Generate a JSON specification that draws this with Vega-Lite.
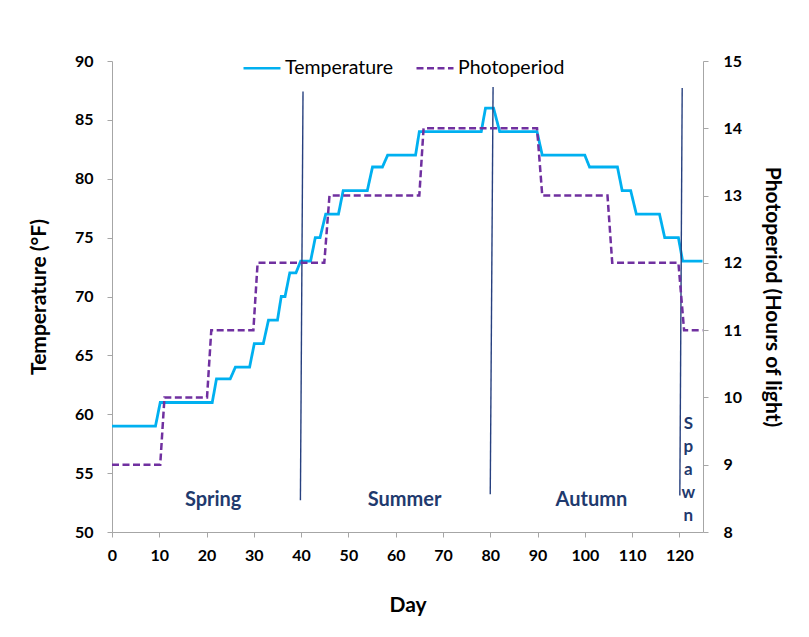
{
  "$schema": "https://vega.github.io/schema/vega-lite/v6.json",
  "width": 591,
  "height": 471,
  "autosize": {"type": "none"},
  "padding": {"left": 112, "top": 61, "right": 106, "bottom": 105},
  "background": "white",
  "config": {
    "view": {"stroke": null},
    "font": "Lato",
    "axis": {
      "grid": false,
      "domainColor": "#a6a6a6",
      "tickColor": "#a6a6a6",
      "tickSize": 5,
      "labelFont": "Lato",
      "labelFontWeight": "bold",
      "labelFontSize": 16,
      "labelColor": "#000000",
      "titleFont": "Lato",
      "titleFontWeight": "bold",
      "titleFontSize": 21,
      "titleColor": "#000000"
    },
    "legend": {
      "orient": "none",
      "legendX": 130,
      "legendY": -13,
      "direction": "horizontal",
      "title": null,
      "labelFont": "Lato",
      "labelFontSize": 19.5,
      "labelColor": "#000000",
      "symbolType": "stroke",
      "symbolSize": 1369,
      "symbolStrokeWidth": 2.5,
      "labelOffset": 3,
      "columnPadding": 17
    }
  },
  "datasets": {
    "lines": [
      {"day": 0, "series": "Temperature", "value": 59},
      {"day": 9.2, "series": "Temperature", "value": 59},
      {"day": 10.2, "series": "Temperature", "value": 61},
      {"day": 21.2, "series": "Temperature", "value": 61},
      {"day": 22.1, "series": "Temperature", "value": 63},
      {"day": 25.0, "series": "Temperature", "value": 63},
      {"day": 26.1, "series": "Temperature", "value": 64},
      {"day": 29.1, "series": "Temperature", "value": 64},
      {"day": 30.1, "series": "Temperature", "value": 66},
      {"day": 32.0, "series": "Temperature", "value": 66},
      {"day": 33.1, "series": "Temperature", "value": 68},
      {"day": 35.0, "series": "Temperature", "value": 68},
      {"day": 35.8, "series": "Temperature", "value": 70},
      {"day": 36.6, "series": "Temperature", "value": 70},
      {"day": 37.6, "series": "Temperature", "value": 72},
      {"day": 38.9, "series": "Temperature", "value": 72},
      {"day": 39.9, "series": "Temperature", "value": 73},
      {"day": 42.0, "series": "Temperature", "value": 73},
      {"day": 43.0, "series": "Temperature", "value": 75},
      {"day": 44.0, "series": "Temperature", "value": 75},
      {"day": 45.2, "series": "Temperature", "value": 77},
      {"day": 47.9, "series": "Temperature", "value": 77},
      {"day": 48.9, "series": "Temperature", "value": 79},
      {"day": 54.0, "series": "Temperature", "value": 79},
      {"day": 55.1, "series": "Temperature", "value": 81},
      {"day": 57.2, "series": "Temperature", "value": 81},
      {"day": 58.3, "series": "Temperature", "value": 82},
      {"day": 64.2, "series": "Temperature", "value": 82},
      {"day": 65.0, "series": "Temperature", "value": 84},
      {"day": 78.1, "series": "Temperature", "value": 84},
      {"day": 79.0, "series": "Temperature", "value": 86},
      {"day": 80.7, "series": "Temperature", "value": 86},
      {"day": 82.0, "series": "Temperature", "value": 84},
      {"day": 89.9, "series": "Temperature", "value": 84},
      {"day": 91.0, "series": "Temperature", "value": 82},
      {"day": 100.0, "series": "Temperature", "value": 82},
      {"day": 101.0, "series": "Temperature", "value": 81},
      {"day": 106.9, "series": "Temperature", "value": 81},
      {"day": 107.9, "series": "Temperature", "value": 79},
      {"day": 109.7, "series": "Temperature", "value": 79},
      {"day": 110.9, "series": "Temperature", "value": 77},
      {"day": 115.8, "series": "Temperature", "value": 77},
      {"day": 116.9, "series": "Temperature", "value": 75},
      {"day": 119.8, "series": "Temperature", "value": 75},
      {"day": 120.7, "series": "Temperature", "value": 73},
      {"day": 124.9, "series": "Temperature", "value": 73},
      {"day": 0, "series": "Photoperiod", "value": 9},
      {"day": 10.2, "series": "Photoperiod", "value": 9},
      {"day": 11.1, "series": "Photoperiod", "value": 10},
      {"day": 20.1, "series": "Photoperiod", "value": 10},
      {"day": 21.0, "series": "Photoperiod", "value": 11},
      {"day": 29.9, "series": "Photoperiod", "value": 11},
      {"day": 30.8, "series": "Photoperiod", "value": 12},
      {"day": 44.9, "series": "Photoperiod", "value": 12},
      {"day": 46.0, "series": "Photoperiod", "value": 13},
      {"day": 65.0, "series": "Photoperiod", "value": 13},
      {"day": 65.9, "series": "Photoperiod", "value": 14},
      {"day": 89.9, "series": "Photoperiod", "value": 14},
      {"day": 91.0, "series": "Photoperiod", "value": 13},
      {"day": 104.8, "series": "Photoperiod", "value": 13},
      {"day": 105.8, "series": "Photoperiod", "value": 12},
      {"day": 119.8, "series": "Photoperiod", "value": 12},
      {"day": 121.0, "series": "Photoperiod", "value": 11},
      {"day": 124.9, "series": "Photoperiod", "value": 11}
    ],
    "dividers": [
      {"dayTop": 40.4, "dayBottom": 39.85, "top": 87.4, "bottom": 52.7},
      {"dayTop": 80.6, "dayBottom": 80.0, "top": 87.8, "bottom": 53.2},
      {"dayTop": 120.6, "dayBottom": 120.1, "top": 87.7, "bottom": 53.1}
    ],
    "seasons": [
      {"label": "Spring", "day": 21.4, "temp": 52.7},
      {"label": "Summer", "day": 61.9, "temp": 52.7},
      {"label": "Autumn", "day": 101.4, "temp": 52.7}
    ],
    "spawn": [
      {"label": "S\np\na\nw\nn", "day": 121.9, "temp": 59.2}
    ]
  },
  "layer": [
    {
      "layer": [
        {
          "data": {"name": "lines"},
          "transform": [{"filter": "datum.series === 'Temperature'"}],
          "mark": {"type": "line", "strokeWidth": 2.8},
          "encoding": {
            "x": {
              "field": "day", "type": "quantitative",
              "scale": {"domain": [0, 125], "nice": false, "zero": false},
              "axis": {"title": "Day", "values": [0, 10, 20, 30, 40, 50, 60, 70, 80, 90, 100, 110, 120], "labelPadding": 10, "titlePadding": 31, "labelFlush": false}
            },
            "y": {
              "field": "value", "type": "quantitative",
              "scale": {"domain": [50, 90], "nice": false, "zero": false},
              "axis": {"title": "Temperature (°F)", "values": [50, 55, 60, 65, 70, 75, 80, 85, 90], "labelPadding": 14, "titlePadding": 25}
            },
            "color": {
              "field": "series", "type": "nominal",
              "scale": {"domain": ["Temperature", "Photoperiod"], "range": ["#00B0F0", "#7030A0"]}
            },
            "strokeDash": {
              "field": "series", "type": "nominal",
              "scale": {"domain": ["Temperature", "Photoperiod"], "range": [[1, 0], [7, 3.5]]}
            }
          }
        },
        {
          "data": {"name": "dividers"},
          "mark": {"type": "rule", "color": "#27407F", "strokeWidth": 1.4},
          "encoding": {
            "x": {"field": "dayTop", "type": "quantitative"},
            "x2": {"field": "dayBottom"},
            "y": {"field": "top", "type": "quantitative"},
            "y2": {"field": "bottom"}
          }
        },
        {
          "data": {"name": "seasons"},
          "mark": {"type": "text", "color": "#1F3A6E", "fontWeight": "bold", "font": "Lato", "fontSize": 20, "baseline": "middle", "align": "center"},
          "encoding": {
            "x": {"field": "day", "type": "quantitative"},
            "y": {"field": "temp", "type": "quantitative"},
            "text": {"field": "label"}
          }
        },
        {
          "data": {"name": "spawn"},
          "mark": {"type": "text", "color": "#1F3A6E", "fontWeight": "bold", "font": "Lato", "fontSize": 17, "lineBreak": "\n", "lineHeight": 23, "baseline": "middle", "align": "center"},
          "encoding": {
            "x": {"field": "day", "type": "quantitative"},
            "y": {"field": "temp", "type": "quantitative"},
            "text": {"field": "label"}
          }
        }
      ]
    },
    {
      "data": {"name": "lines"},
      "transform": [{"filter": "datum.series === 'Photoperiod'"}],
      "mark": {"type": "line", "strokeWidth": 2.5},
      "encoding": {
        "x": {"field": "day", "type": "quantitative"},
        "y": {
          "field": "value", "type": "quantitative",
          "scale": {"domain": [8, 15], "nice": false, "zero": false},
          "axis": {"orient": "right", "title": "Photoperiod (Hours of light)", "values": [8, 9, 10, 11, 12, 13, 14, 15], "labelPadding": 15, "titlePadding": 20}
        },
        "color": {"field": "series", "type": "nominal"},
        "strokeDash": {"field": "series", "type": "nominal"}
      }
    }
  ],
  "resolve": {"scale": {"y": "independent"}}
}
